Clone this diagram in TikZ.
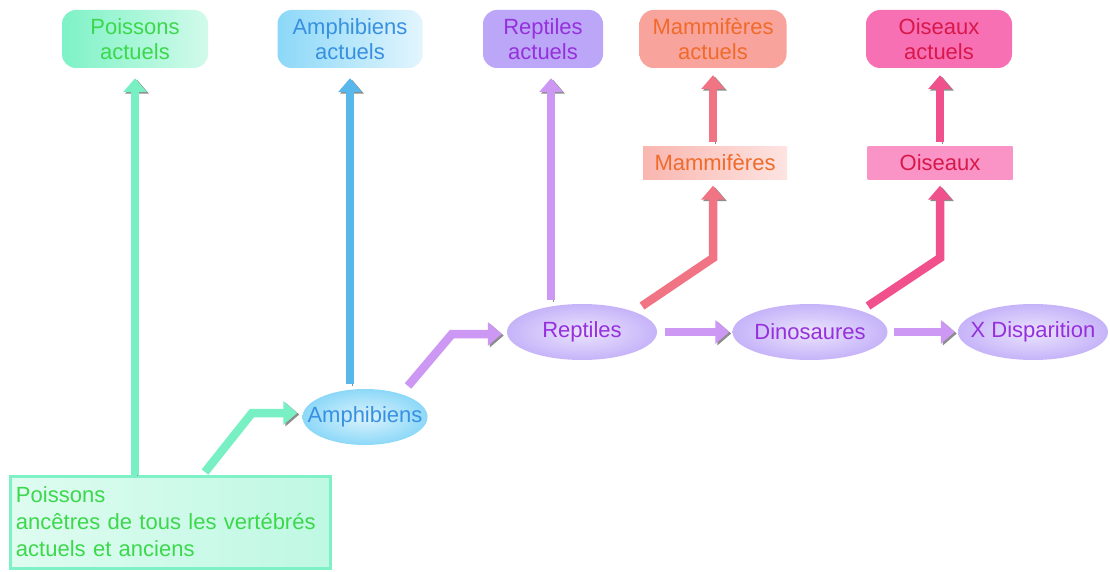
\documentclass[tikz,border=0pt]{standalone}
\usepackage{fontspec}
\setmainfont{Liberation Sans}
\usetikzlibrary{arrows.meta,shapes.geometric}
\definecolor{gTxt}{HTML}{3CD84C}
\definecolor{gFill}{HTML}{7EF2C6}
\definecolor{gArr}{HTML}{78F0C4}
\definecolor{bTxt}{HTML}{3890E0}
\definecolor{bFill}{HTML}{8CD8F8}
\definecolor{bArr}{HTML}{58B8EC}
\definecolor{pTxt}{HTML}{9630DC}
\definecolor{pFill}{HTML}{BCA6F8}
\definecolor{pArr}{HTML}{CC98F4}
\definecolor{oTxt}{HTML}{F06A2A}
\definecolor{oFill}{HTML}{F8A49C}
\definecolor{sArr}{HTML}{F07484}
\definecolor{rTxt}{HTML}{D8184A}
\definecolor{rFill}{HTML}{F870B4}
\definecolor{rArr}{HTML}{F0508C}
\tikzset{
  txt/.style={font=\fontsize{22}{25}\selectfont, align=center},
  topbox/.style={txt, rounded corners=14pt, minimum height=58pt, inner xsep=2pt, text=#1},
  midbox/.style={txt, minimum height=33pt, inner xsep=2pt, text=#1},
  oval/.style={txt, ellipse, minimum height=56pt, inner xsep=-30pt, inner ysep=0pt, text=#1},
  barrow/.style={line width=8.5pt, draw=#1, line join=miter,
    -{Triangle[length=14pt,width=23pt]},
    preaction={draw=black!45, transform canvas={shift={(2pt,-1.5pt)}}}},
}
\begin{document}
\begin{tikzpicture}[x=1pt,y=-1pt]
\useasboundingbox[fill=white] (0,0) rectangle (1110,572);
% top boxes
\node[topbox=gTxt, minimum width=146pt, left color=gFill, right color=gFill!35] (pa) at (135,39) {Poissons\\actuels};
\node[topbox=bTxt, minimum width=145pt, left color=bFill, right color=bFill!25] (aa) at (350,39) {Amphibiens\\actuels};
\node[topbox=pTxt, minimum width=120pt, left color=pFill, middle color=pFill!45, right color=pFill] (ra) at (543,39) {Reptiles\\actuels};
\node[topbox=oTxt, minimum width=147pt, left color=oFill, middle color=oFill!40, right color=oFill] (ma) at (713,39) {Mammifères\\actuels};
\node[topbox=rTxt, minimum width=146pt, left color=rFill, middle color=rFill!60, right color=rFill] (oa) at (939,39) {Oiseaux\\actuels};
% middle boxes
\node[midbox=oTxt, minimum width=144pt, left color=oFill!80, middle color=oFill!45, right color=oFill!30] (mm) at (715,163) {Mammifères};
\node[midbox=rTxt, minimum width=145pt, left color=rFill!75, middle color=rFill!55, right color=rFill!75] (oi) at (940,163) {Oiseaux};
% ellipses
\node[oval=bTxt, minimum width=125pt, inner color=bFill!30, outer color=bFill] (amph) at (365,417) {Amphibiens};
\node[oval=pTxt, minimum width=150pt, inner color=pFill!30, outer color=pFill!85] (rep) at (582,332) {Reptiles};
\node[oval=pTxt, minimum width=155pt, inner color=pFill!30, outer color=pFill!85] (dino) at (810,332) {Dinosaures};
\node[oval=pTxt, minimum width=150pt, inner color=pFill!30, outer color=pFill!85] (xd) at (1033,332) {X Disparition};
% ancestor box
\node[draw=gFill, line width=3pt, left color=gFill!25, right color=gFill!50,
  minimum width=320pt, minimum height=92pt, text width=308pt, align=left, text=gTxt,
  font=\fontsize{22}{27}\selectfont] (pois) at (170,522)
  {Poissons\\ancêtres de tous les vertébrés\\actuels et anciens};
% coordinates
\coordinate (g0) at (205,472);
\coordinate (g1) at (252,413);
\coordinate (b0) at (350,384);
\coordinate (p0) at (408,386);
\coordinate (p1) at (452,334);
\coordinate (rv) at (551,300);
\coordinate (s0) at (642,306);
\coordinate (s1) at (713,258);
\coordinate (k0) at (868,306);
\coordinate (k1) at (940,258);
% arrows
\draw[barrow=gArr] (pois.north -| pa.south) -- ([yshift=-10pt]pa.south);
\draw[barrow=gArr] (g0) -- (g1) -- ([xshift=-5pt]amph.west |- g1);
\draw[barrow=bArr] (b0) -- ([yshift=-10pt]aa.south);
\draw[barrow=pArr] (p0) -- (p1) -- ([xshift=-5pt]rep.west |- p1);
\draw[barrow=pArr] (rv) -- ([yshift=-10pt]rv |- ra.south);
\draw[barrow=sArr] (s0) -- (s1) -- ([yshift=-6pt]s1 |- mm.south);
\draw[barrow=sArr] ([yshift=4pt]s1 |- mm.north) -- ([yshift=-7pt]s1 |- ma.south);
\draw[barrow=rArr] (k0) -- (k1) -- ([yshift=-6pt]k1 |- oi.south);
\draw[barrow=rArr] ([yshift=4pt]k1 |- oi.north) -- ([yshift=-7pt]k1 |- oa.south);
\draw[barrow=pArr] ([xshift=8pt]rep.east) -- ([xshift=-3pt]dino.west);
\draw[barrow=pArr] ([xshift=6pt]dino.east) -- ([xshift=-3pt]xd.west);
\end{tikzpicture}
\end{document}
